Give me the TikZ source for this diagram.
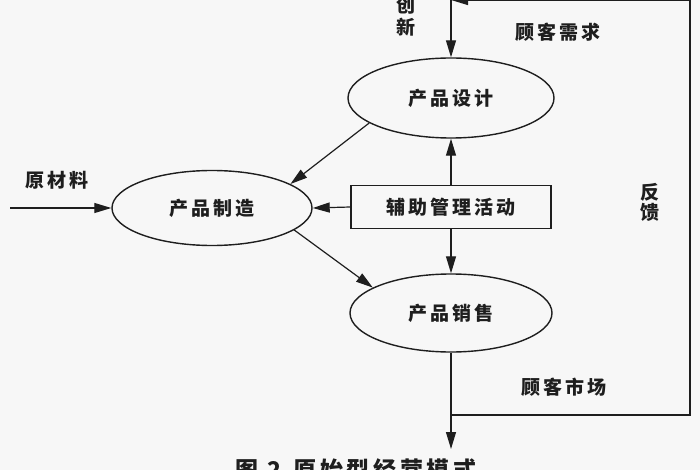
\documentclass[tikz,border=0pt]{standalone}
\usepackage{fontspec}
\usetikzlibrary{arrows.meta,shapes.geometric}
\newfontfamily\cjk[LetterSpace=16]{Noto Sans CJK SC}
\definecolor{ink}{HTML}{1E1E1E}
\definecolor{paper}{HTML}{F7F7F7}
\begin{document}
\begin{tikzpicture}[x=1pt,y=-1pt,
  every node/.style={font=\cjk\bfseries\fontsize{19}{22}\selectfont, text=ink},
  oval/.style={ellipse, draw=ink, line width=1.4pt, inner sep=0pt},
  boxnode/.style={rectangle, draw=ink, line width=1.3pt, inner sep=0pt, minimum width=200pt, minimum height=43pt},
  lbl/.style={inner sep=0pt},
  arr/.style={draw=ink, line width=1.2pt, -{Triangle[length=17pt,width=10pt]}},
  ln/.style={draw=ink, line width=1.2pt}]
\fill[paper] (0,0) rectangle (700,470);
\useasboundingbox (0,0) rectangle (700,470);

\node[oval, minimum width=206pt, minimum height=80pt] (design) at (451,98) {产品设计};
\node[oval, minimum width=200pt, minimum height=75pt] (make) at (212,208) {产品制造};
\node[boxnode] (aux) at (451,207) {辅助管理活动};
\node[oval, minimum width=202pt, minimum height=78pt] (sales) at (451,313) {产品销售};

\coordinate (top) at (451,0);
\coordinate (in) at (10,208);
\coordinate (out) at (451,449);
\coordinate (fb) at (451,415);
\coordinate (fbr) at (690,415);
\coordinate (fbt) at (690,0);

\draw[arr] (top) -- (design);
\draw[arr] (in) -- (make);
\draw[arr] (design.197) -- (make.17);
\draw[arr] (make.345) -- (sales.162);
\draw[arr] (aux.west) -- (make.east);
\draw[arr] (aux) -- (design);
\draw[arr] (aux) -- (sales);
\draw[arr] (sales) -- (out);
\draw[ln] (fb) -- (fbr) -- (fbt);
\draw[arr] (fbt) -- (top);

\node[lbl] (c1) at (406,5) {创};
\node[lbl] (c2) at (406,27) {新};
\node[lbl] (need) at (558,32) {顾客需求};
\node[lbl] (f1) at (650,192) {反};
\node[lbl] (f2) at (650,212) {馈};
\node[lbl] (raw) at (57,180) {原材料};
\node[lbl] (mkt) at (564,387) {顾客市场};
\node[lbl, font=\cjk\bfseries\fontsize{23}{26}\selectfont] (cap) at (356,470) {图 2\hspace{12pt}原始型经营模式};
\end{tikzpicture}
\end{document}
